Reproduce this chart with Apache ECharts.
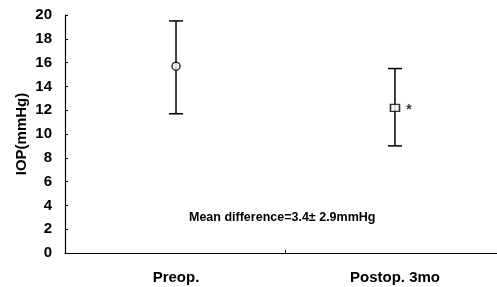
<!DOCTYPE html>
<html><head><meta charset="utf-8">
<script src="https://cdn.jsdelivr.net/npm/echarts@6/dist/echarts.min.js"></script>
<style>html,body{margin:0;padding:0;background:#fff}#c{width:497px;height:287px}</style>
</head><body><div id="c"></div>
<script>
const categories = ['Preop.', 'Postop. 3mo'];
const means = [15.7, 12.2];
const upper = [19.5, 15.5];
const lower = [11.7, 9.0];
const yTicks = [0, 2, 4, 6, 8, 10, 12, 14, 16, 18, 20];
const annotation = 'Mean difference=3.4\u00b1 2.9mmHg';

const chart = echarts.init(document.getElementById('c'));
const font = 'Liberation Sans, Arial, sans-serif';
chart.setOption({
  animation: false,
  grid: { left: 65, right: 0, top: 15, bottom: 34, outerBoundsMode: 'none', containLabel: false },
  xAxis: {
    type: 'value', min: -0.507, max: 1.466,
    splitLine: { show: false },
    axisLine: { onZero: false, lineStyle: { color: '#000', width: 1.2 } },
    axisTick: { show: true, inside: true, length: 3, customValues: [0.5], lineStyle: { color: '#000' } },
    axisLabel: { color: '#000', fontFamily: font, fontWeight: 'bold', fontSize: 15, margin: 17,
      customValues: [0, 1], formatter: v => categories[Math.round(v)] }
  },
  yAxis: {
    type: 'value', min: yTicks[0], max: yTicks[yTicks.length - 1], interval: 2,
    name: 'IOP(mmHg)', nameLocation: 'middle', nameGap: 36, nameMoveOverlap: false,
    nameTextStyle: { color: '#000', fontFamily: font, fontWeight: 'bold', fontSize: 15 },
    axisLine: { show: true, onZero: false, lineStyle: { color: '#000', width: 1.2 } },
    axisTick: { show: true, inside: true, length: 3, lineStyle: { color: '#000' } },
    splitLine: { show: false },
    axisLabel: { color: '#000', fontFamily: font, fontWeight: 'bold', fontSize: 15, margin: 13 }
  },
  graphic: [{
    type: 'text', left: 189, top: 211,
    style: { text: annotation, fill: '#000', font: 'bold 12.5px ' + font }
  }],
  series: [
    {
      type: 'custom',
      data: categories.map((c, i) => [i, lower[i], upper[i]]),
      renderItem: function (params, api) {
        const lo = api.coord([api.value(0), api.value(1)]);
        const hi = api.coord([api.value(0), api.value(2)]);
        const hw = 7;
        const st = { stroke: '#000', lineWidth: 1.5 };
        return {
          type: 'group', children: [
            { type: 'line', shape: { x1: lo[0], y1: lo[1], x2: hi[0], y2: hi[1] }, style: st },
            { type: 'line', shape: { x1: lo[0] - hw, y1: lo[1], x2: lo[0] + hw, y2: lo[1] }, style: st },
            { type: 'line', shape: { x1: hi[0] - hw, y1: hi[1], x2: hi[0] + hw, y2: hi[1] }, style: st }
          ]
        };
      },
      z: 1
    },
    {
      type: 'scatter',
      data: [
        { value: [0, means[0]], symbol: 'circle', symbolSize: 8 },
        { value: [1, means[1]], symbol: 'rect', symbolSize: [9, 7],
          label: { show: true, position: 'right', distance: 6, formatter: '*', color: '#000', fontWeight: 'bold', fontSize: 14, fontFamily: font, offset: [0, 2] } }
      ],
      itemStyle: { color: '#fff', borderColor: '#000', borderWidth: 1.5 },
      z: 3
    }
  ]
});
</script></body></html>
